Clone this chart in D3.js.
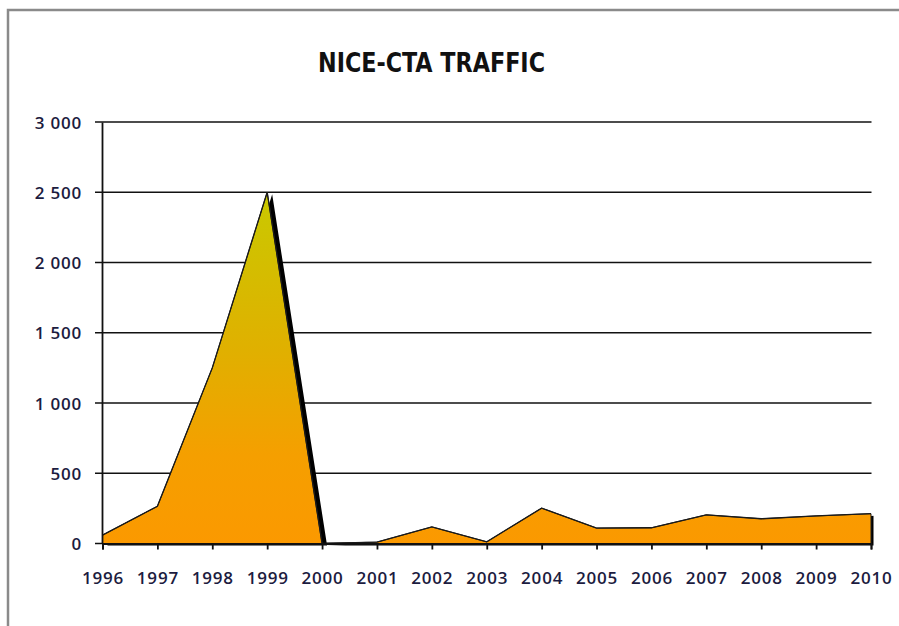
<!DOCTYPE html>
<html>
<head>
<meta charset="utf-8">
<script src="https://cdn.jsdelivr.net/npm/d3@7"></script>
<style>
body { margin: 0; background: #fff; }
</style>
</head>
<body>
<div id="chart"></div>
<script>
// traffic per year
var years = [1996, 1997, 1998, 1999, 2000, 2001, 2002, 2003, 2004, 2005, 2006, 2007, 2008, 2009, 2010];
var traffic = [60, 265, 1250, 2500, 0, 10, 118, 12, 252, 110, 112, 204, 176, 196, 212];
var yTicks = [0, 500, 1000, 1500, 2000, 2500, 3000];
var title = "NICE-CTA TRAFFIC";

var width = 899, height = 626;
var svg = d3.select("#chart").append("svg")
    .attr("width", width)
    .attr("height", height);

// outer frame of the chart
svg.append("path")
    .attr("d", "M8,626 L8,10 L899,10")
    .attr("fill", "none")
    .attr("stroke", "#8a8a8a")
    .attr("stroke-width", 2.5);

var xscale = d3.scaleLinear().domain([1996, 2010]).range([102.5, 871]);
var yscale = d3.scaleLinear().domain([0, 3000]).range([543.5, 122]);

var data = years.map(function (d, i) { return {year: d, value: traffic[i]}; });

// gradient, yellow at the peak down to orange
var defs = svg.append("defs");
var grad = defs.append("linearGradient")
    .attr("id", "fillGrad")
    .attr("gradientUnits", "userSpaceOnUse")
    .attr("x1", 0).attr("x2", 0)
    .attr("y1", yscale(2500)).attr("y2", yscale(0));
grad.append("stop").attr("offset", "0%").attr("stop-color", "#c9c900");
grad.append("stop").attr("offset", "45%").attr("stop-color", "#e0b000");
grad.append("stop").attr("offset", "75%").attr("stop-color", "#f59f00");
grad.append("stop").attr("offset", "100%").attr("stop-color", "#fb9900");

defs.append("filter").attr("id", "soft")
    .append("feGaussianBlur").attr("stdDeviation", 0.6);

defs.append("clipPath").attr("id", "plotClip")
    .append("rect")
    .attr("x", 0).attr("y", 0)
    .attr("width", 873.5).attr("height", 560);

// grid lines
svg.append("g").attr("id", "grid")
    .selectAll("line")
    .data(yTicks)
    .enter()
    .append("line")
    .attr("x1", 95)
    .attr("x2", 871.5)
    .attr("y1", function (d) { return yscale(d); })
    .attr("y2", function (d) { return yscale(d); })
    .attr("stroke", "#111")
    .attr("stroke-width", 1.6);

var area = d3.area()
    .x(function (d) { return xscale(d.year); })
    .y0(yscale(0))
    .y1(function (d) { return yscale(d.value); });

var line = d3.line()
    .x(function (d) { return xscale(d.year); })
    .y(function (d) { return yscale(d.value); });

// shadow under the area
svg.append("g")
    .attr("clip-path", "url(#plotClip)")
    .append("path")
    .datum(data)
    .attr("d", area)
    .attr("transform", "translate(5,2)")
    .attr("fill", "#000")
    .attr("filter", "url(#soft)");

svg.append("path")
    .datum(data)
    .attr("d", area)
    .attr("fill", "url(#fillGrad)")
    .attr("stroke", "#222")
    .attr("stroke-width", 1)
    .attr("stroke-linejoin", "round");

svg.append("path")
    .datum(data)
    .attr("d", line)
    .attr("fill", "none")
    .attr("stroke", "#1a1a1a")
    .attr("stroke-width", 1.3);

// axes
var yAxis = d3.axisLeft(yscale)
    .tickValues(yTicks)
    .tickSize(0)
    .tickPadding(20)
    .tickFormat(function (d) { return d3.format(",")(d).replace(",", " "); });

var gy = svg.append("g").attr("id", "yAxis")
    .attr("transform", "translate(102,0)")
    .call(yAxis);
gy.select(".domain").attr("stroke", "#111").attr("stroke-width", 1.8);
gy.selectAll("text")
    .attr("fill", "#1c1c40")
    .style("font-family", "Open Sans")
    .style("font-weight", "600")
    .style("font-size", "17px")
    .style("letter-spacing", "0.8px")
    .attr("dy", "0.36em");

var xAxis = d3.axisBottom(xscale)
    .tickValues(years)
    .tickSize(6)
    .tickPadding(22)
    .tickFormat(d3.format("d"));

var gx = svg.append("g").attr("id", "xAxis")
    .attr("transform", "translate(0,543.5)")
    .call(xAxis);
gx.select(".domain").attr("stroke", "#111").attr("stroke-width", 1.8);
gx.selectAll(".tick line").attr("stroke", "#111").attr("stroke-width", 1.8);
gx.selectAll("text")
    .attr("fill", "#1c1c40")
    .style("font-family", "Open Sans")
    .style("font-weight", "600")
    .style("font-size", "17px")
    .style("letter-spacing", "0.8px");

// title
svg.append("text")
    .attr("x", 318)
    .attr("y", 72)
    .attr("textLength", 227)
    .attr("lengthAdjust", "spacingAndGlyphs")
    .style("font-family", "DejaVu Sans Condensed")
    .style("font-weight", "bold")
    .style("font-size", "26px")
    .attr("fill", "#111")
    .text(title);
</script>
</body>
</html>
